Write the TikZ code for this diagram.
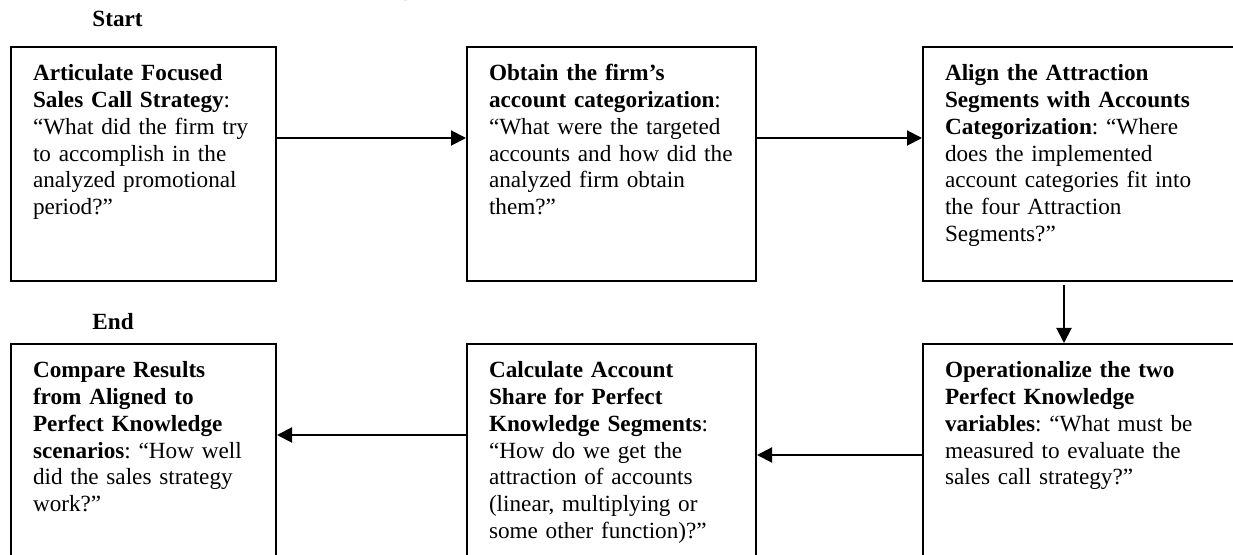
\documentclass[tikz,border=0pt]{standalone}
\usepackage{fontspec}
\setmainfont{Liberation Serif}
\usetikzlibrary{arrows.meta}
\tikzset{
  flow/.style={-{Triangle[length=7.5pt,width=7.5pt]},line width=1pt},
  stepbox/.style={draw=black,line width=1pt,anchor=north west,align=left,
                  font=\fontsize{11.6}{13.35}\selectfont\frenchspacing,inner xsep=1pt,inner ysep=8pt,
                  execute at begin node={\leftskip=10pt},
                  text height=9pt,text depth=92pt},
  stepnarrow/.style={stepbox,text width=130.5pt},
  stepwide/.style={stepbox,text width=142.5pt},
  stepopen/.style={stepbox,text width=163pt},
  tag/.style={font=\fontsize{11.6}{13.35}\selectfont\bfseries,anchor=base west,inner sep=0pt},
}
\begin{document}
\begin{tikzpicture}[x=0.5pt,y=-0.5pt]
  \useasboundingbox (0,0) rectangle (1233,555);
  \node[font=\fontsize{11.6}{13.35}\selectfont\bfseries,anchor=base] (title) at (618,-4)
    {Figure 3: Six Key Steps for an Attraction Model};

  \node[tag] (start) at (92,27) {Start};
  \node[tag] (end) at (92,330) {End};

  % top row
  \node[stepnarrow] (articulate) at (10,46)
    {\textbf{Articulate Focused}\\
     \textbf{Sales Call Strategy}:\\
     “What did the firm try\\
     to accomplish in the\\
     analyzed promotional\\
     period?”};
  \node[stepwide] (obtain) at (466,46)
    {\textbf{Obtain the firm’s}\\
     \textbf{account categorization}:\\
     “What were the targeted\\
     accounts and how did the\\
     analyzed firm obtain\\
     them?”};
  \node[stepopen] (align) at (922,46)
    {\textbf{Align the Attraction}\\
     \textbf{Segments with Accounts}\\
     \textbf{Categorization}: “Where\\
     does the implemented\\
     account categories fit into\\
     the four Attraction\\
     Segments?”};

  % bottom row
  \node[stepnarrow] (compare) at (10,343)
    {\textbf{Compare Results}\\
     \textbf{from Aligned to}\\
     \textbf{Perfect Knowledge}\\
     \textbf{scenarios}: “How well\\
     did the sales strategy\\
     work?”};
  \node[stepwide] (calculate) at (466,343)
    {\textbf{Calculate Account}\\
     \textbf{Share for Perfect}\\
     \textbf{Knowledge Segments}:\\
     “How do we get the\\
     attraction of accounts\\
     (linear, multiplying or\\
     some other function)?”};
  \node[stepopen] (operationalize) at (922,343)
    {\textbf{Operationalize the two}\\
     \textbf{Perfect Knowledge}\\
     \textbf{variables}: “What must be\\
     measured to evaluate the\\
     sales call strategy?”};

  \draw[flow] ([yshift=13pt]articulate.east) -- ([yshift=13pt]obtain.west);
  \draw[flow] ([yshift=13pt]obtain.east) -- ([yshift=13pt]align.west);
  \draw[flow] ([xshift=-12pt,yshift=-1.5pt]align.south) -- ([xshift=-12pt]operationalize.north);
  \draw[flow] ([yshift=3pt]operationalize.west) -- ([yshift=3pt]calculate.east);
  \draw[flow] ([yshift=13pt]calculate.west) -- ([yshift=13pt]compare.east);
\end{tikzpicture}
\end{document}
